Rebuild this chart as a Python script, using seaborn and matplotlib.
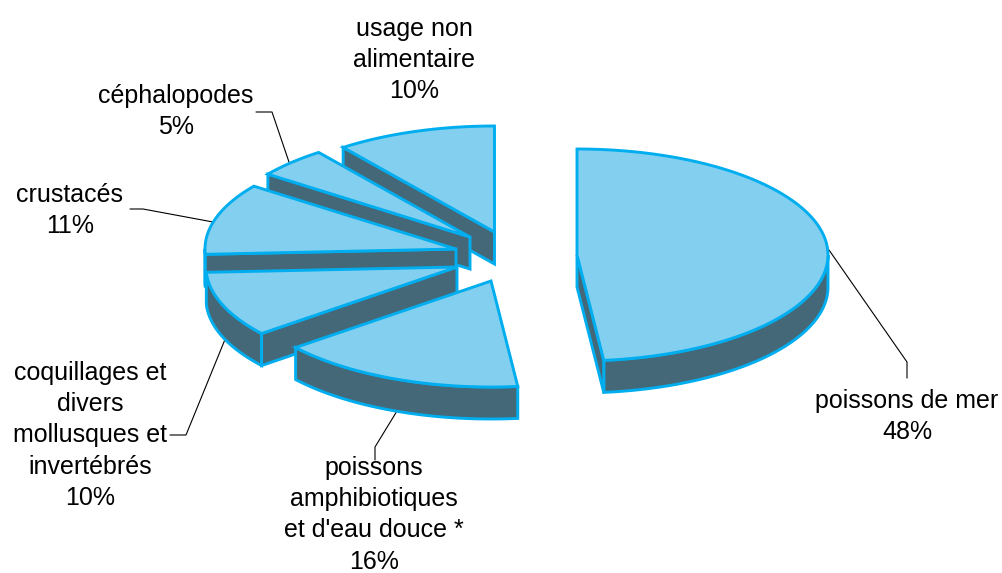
import numpy as np
import seaborn as sns
import matplotlib.pyplot as plt
from matplotlib.patches import Polygon

# shares in percent, one decimal, labels show them rounded
labels = ["poissons de mer", "poissons\namphibiotiques\net d'eau douce *",
          "coquillages et\ndivers\nmollusques et\ninvertébrés", "crustacés",
          "céphalopodes", "usage non\nalimentaire"]
shares = [48.3, 15.9, 10.0, 10.9, 4.6, 10.3]

# layout, in pixels
apex = [(577, 255), (491, 281), (457, 267), (456, 249), (470, 237), (494.5, 232)]
label_pos = [(907, 389), (374, 456), (90, 361), (70, 183), (176, 84), (414, 17)]
leaders = [[(829, 250), (907, 362), (907, 378)],
           [(397, 411), (375, 447), (375, 460)],
           [(226, 337), (186, 435), (170, 435)],
           [(213, 222), (143, 209), (130, 209)],
           [(290, 165), (272, 112), (256, 112)],
           []]
rx, ry, depth = 251, 106, 32

top_col = "#83CFF0"
side_col = "#456878"
edge_col = "#00AEEF"

sns.set_theme(style="white")
plt.rcParams['font.family'] = ['Liberation Sans', 'DejaVu Sans']

fig = plt.figure(figsize=(10.03, 5.73), dpi=100)
ax = fig.add_axes([0, 0, 1, 1])
ax.set_xlim(0, 1003)
ax.set_ylim(573, 0)
ax.axis('off')

# angles clockwise from 12 o'clock
edges = np.concatenate([[0], np.cumsum(shares)]) / sum(shares) * 2 * np.pi


def rim(center, t):
    return np.column_stack([center[0] + rx * np.sin(t), center[1] - ry * np.cos(t)])


def draw(points, color, z):
    ax.add_patch(Polygon(points, closed=True, facecolor=color, edgecolor=edge_col,
                         linewidth=2.1, joinstyle='miter', zorder=z))


for line in leaders:
    if line:
        xs, ys = zip(*line)
        ax.plot(xs, ys, color='black', lw=0.8, zorder=1)

# back slices first, so the front ones cover them
order = [5, 4, 3, 2, 1, 0]
for z, i in enumerate(order):
    z = 2 + z * 3
    c = apex[i]
    t0, t1 = edges[i], edges[i + 1]
    t = np.linspace(t0, t1, 80)
    arc = rim(c, t)
    low = (c[0], c[1] + depth)

    # outer wall, only the part of the rim facing us
    a, b = max(t0, np.pi / 2), min(t1, 3 * np.pi / 2)
    if a < b:
        tw = np.linspace(a, b, 60)
        upper = rim(c, tw)
        lower = upper + [0, depth]
        draw(np.vstack([upper, lower[::-1]]), side_col, z)

    # cut faces
    if np.sin(t0) < -1e-6:
        p = arc[0]
        draw([c, p, p + [0, depth], low], side_col, z)
    if np.sin(t1) > 1e-6:
        p = arc[-1]
        draw([c, p, p + [0, depth], low], side_col, z)

    draw(np.vstack([[c], arc]), top_col, z + 1)

for name, share, pos in zip(labels, shares, label_pos):
    ax.text(pos[0], pos[1], f"{name}\n{round(share)}%", ha='center', va='top',
            fontsize=18, color='black', linespacing=1.38, zorder=30)

fig.savefig("out.png", dpi=100, facecolor='white')
